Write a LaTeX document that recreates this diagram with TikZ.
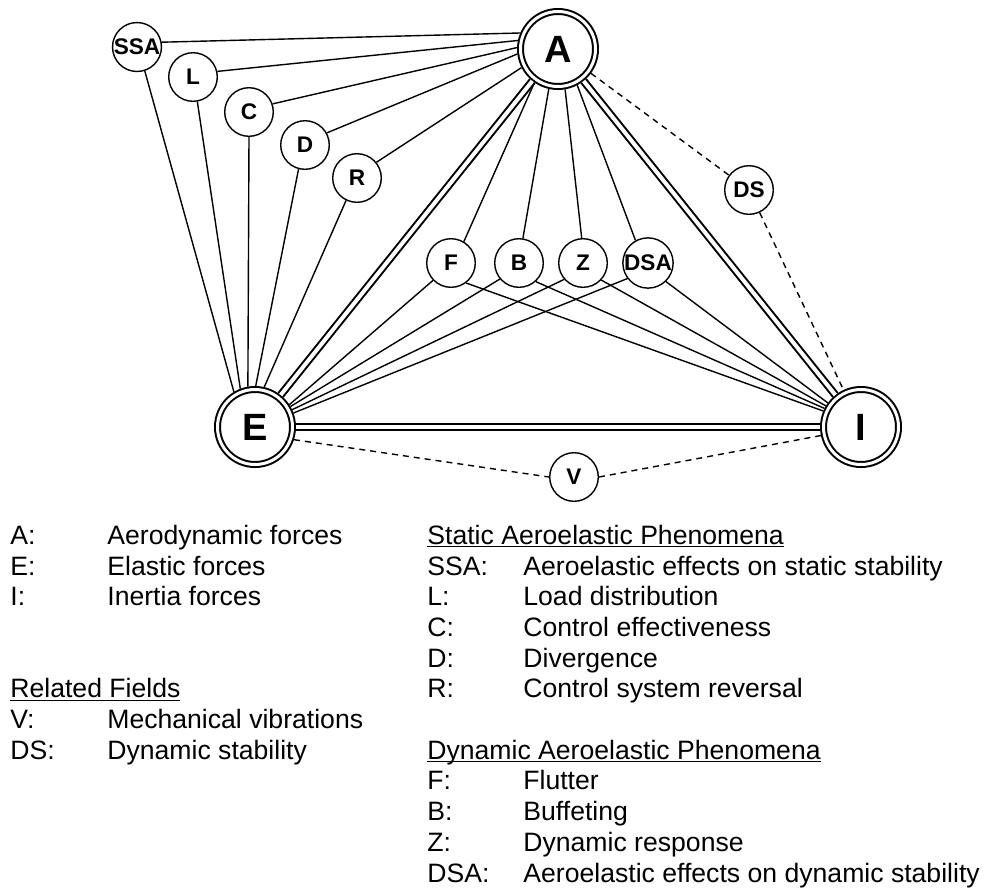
\documentclass[tikz,border=0pt]{standalone}
\usepackage{fontspec}
\setmainfont{Liberation Sans}
\usepackage{tikz}
\usetikzlibrary{positioning, calc}

% underlined heading of a legend group
\newcommand{\keyhead}[1]{\setbox0\hbox{#1}\rlap{\rule[-1.5pt]{\wd0}{0.65pt}}\box0}

\begin{document}
\begin{tikzpicture}[
    x=0.5pt, y=-0.5pt,
    big/.style={circle, draw, double, line width=1pt, double distance=1.5pt, minimum size=37.5pt, inner sep=0pt, outer sep=1.75pt, font=\fontsize{19}{19}\selectfont\bfseries},
    small/.style={circle, draw, line width=0.7pt, minimum size=24.3pt, inner sep=0pt, outer sep=0.35pt, font=\fontsize{11.3}{11.3}\selectfont\bfseries},
    link/.style={line width=0.7pt},
    strong/.style={double, line width=1pt, double distance=2pt},
    weak/.style={line width=0.7pt, dash pattern=on 3pt off 2.5pt},
    key/.style={anchor=base west, inner sep=0pt, font=\fontsize{13.3}{15.35}\selectfont}
]
\useasboundingbox (0,0) rectangle (986,890);

% the three forces
\node[big] (A) at (558,49) {A};
\node[big] (E) at (255,427) {E};
\node[big] (I) at (861,427) {I};

% static phenomena
\node[small] (SSA) at (137,47) {SSA};
\node[small] (L) at (193,77) {L};
\node[small] (C) at (249,112) {C};
\node[small] (D) at (305,145) {D};
\node[small] (R) at (357,178) {R};

% dynamic phenomena
\node[small] (F) at (451,263) {F};
\node[small] (B) at (519,263) {B};
\node[small] (Z) at (583,263) {Z};
\node[small] (DSA) at (648,263) {DSA};

% related fields
\node[small] (DS) at (749,190) {DS};
\node[small] (V) at (574,477) {V};

\draw[strong] (A) -- (E);
\draw[strong] (A) -- (I);
\draw[strong] (E) -- (I);

\draw[link] (SSA.11) -- (A.157);
\draw[link] (L.13) -- (A.168);
\draw[link] (C.19) -- (A.178);
\draw[link] (D.29) -- (A.187);
\draw[link] (R.39) -- (A.207);

\draw[link] (SSA.288) -- (E.121);
\draw[link] (L.280) -- (E.111);
\draw[link] (C.270) -- (E.100);
\draw[link] (D.255) -- (E.89);
\draw[link] (R.244) -- (E.77);

\draw[link] (F.59) -- (A.235);
\draw[link] (B.81) -- (A.257);
\draw[link] (Z.93) -- (A.280);
\draw[link] (DSA.119) -- (A.298);

\draw[link] (F.224) -- (E.33);
\draw[link] (B.220) -- (E.30);
\draw[link] (Z.221) -- (E.25);
\draw[link] (DSA.217) -- (E.20);

\draw[link] (F.307) -- (I.157);
\draw[link] (B.312) -- (I.153);
\draw[link] (Z.317) -- (I.149);
\draw[link] (DSA.314) -- (I.144);

\draw[weak] (A) -- (DS);
\draw[weak] (DS) -- (I);
\draw[weak] (E.-18) -- (V.west);
\draw[weak] (V.east) -- (I.192);

% legend, left column
\foreach \k/\lab/\txt in {0/A:/Aerodynamic forces, 1/E:/Elastic forces, 2/I:/Inertia forces, 6/V:/Mechanical vibrations, 7/DS:/Dynamic stability}
  \node[key] (keyL\k) at (10,{544.3+30.7*\k}) {\makebox[48.5pt][l]{\lab}\txt};
\node[key] (headRel) at (10,{544.3+30.7*5}) {\keyhead{Related Fields}};

% legend, right column
\node[key] (headStat) at (427,544.3) {\keyhead{Static Aeroelastic Phenomena}};
\node[key] (headDyn) at (427,{544.3+30.7*7}) {\keyhead{Dynamic Aeroelastic Phenomena}};
\foreach \k/\lab/\txt in {1/SSA:/Aeroelastic effects on static stability, 2/L:/Load distribution, 3/C:/Control effectiveness, 4/D:/Divergence, 5/R:/Control system reversal, 8/F:/Flutter, 9/B:/Buffeting, 10/Z:/Dynamic response, 11/DSA:/Aeroelastic effects on dynamic stability}
  \node[key] (keyR\k) at (427,{544.3+30.7*\k}) {\makebox[48pt][l]{\lab}\txt};
\end{tikzpicture}
\end{document}
